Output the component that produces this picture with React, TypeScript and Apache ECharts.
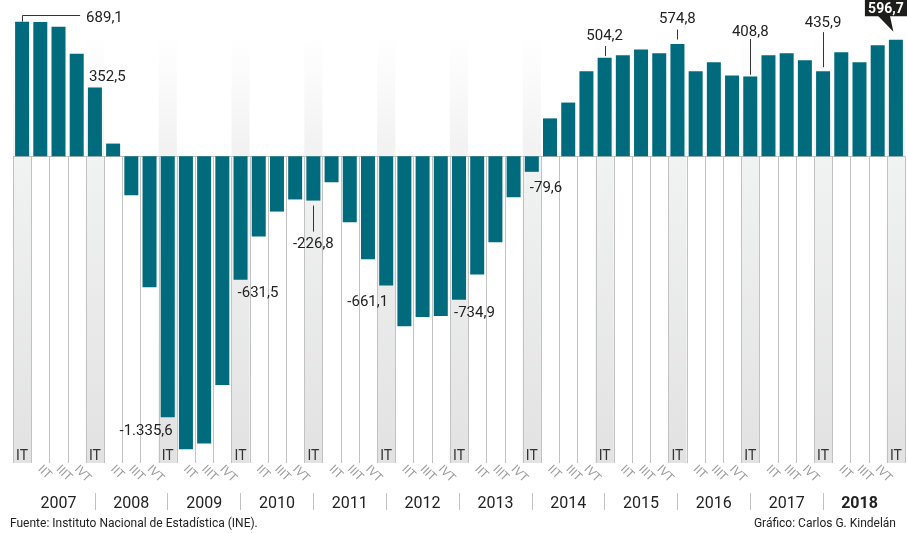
import React, { useEffect, useRef } from 'react';
import * as echarts from 'echarts';

const quarterNames = ['IT', 'IIT', 'IIIT', 'IVT'];
const years = ['2007', '2008', '2009', '2010', '2011', '2012', '2013', '2014', '2015', '2016', '2017', '2018'];
// Variación anual (miles), 49 trimestres
const values = [
  689.1, 688.0, 663, 525, 352.5, 65, -199, -670,
  -1335.6, -1500, -1470, -1171, -631.5, -411, -283, -221,
  -226.8, -133, -338, -527, -661.1, -870, -823, -818,
  -734.9, -605, -440, -210, -79.6, 194, 275, 435,
  504.2, 517, 546, 527, 574.8, 435, 481, 414,
  408.8, 517, 527, 491, 435.9, 532, 481, 568,
  596.7,
];
const quarterLabels = values.map((_, i) => quarterNames[i % 4]);
const annotated = [0, 4, 8, 12, 16, 20, 24, 28, 32, 36, 40, 44, 48];

// layout of the annotation texts (pixels relative to the bar end)
const annotationLayout: Record<number, any> = {
  0: { align: 'left', dx: 64, dy: -5, elbow: true },
  4: { align: 'left', dx: -6, dy: -11 },
  8: { align: 'right', dx: 5, dy: 13 },
  12: { align: 'left', dx: -3, dy: 12 },
  16: { align: 'center', dx: 0, dy: 42, lead: [5, 31] },
  20: { align: 'right', dx: 2, dy: 16 },
  24: { align: 'left', dx: -5, dy: 12 },
  28: { align: 'left', dx: -2, dy: 15.5 },
  32: { align: 'center', dx: 0, dy: -22.7, lead: [-1.7, -11.7] },
  36: { align: 'center', dx: 0, dy: -25.7, lead: [-4.5, -14.4] },
  40: { align: 'center', dx: 0, dy: -45.4, lead: [-1.7, -37.4] },
  44: { align: 'center', dx: 0, dy: -48.7, lead: [-4, -39] },
  48: { callout: true },
};

const Y_MIN = -1570;
const Y_MAX = 800;
const BAND_TOP = 655;
const FONT = 'Roboto, "Noto Sans", sans-serif';

function fmt(v: number): string {
  const neg = v < 0;
  const a = Math.abs(v);
  const intPart = Math.floor(a + 1e-9);
  const dec = Math.round((a - intPart) * 10);
  const s = String(intPart).replace(/\B(?=(\d{3})+(?!\d))/g, '.');
  return (neg ? '-' : '') + s + ',' + dec;
}

export default function App() {
  const ref = useRef<HTMLDivElement>(null);
  useEffect(() => {
    if (!ref.current) return;
    const chart = echarts.init(ref.current, null, { renderer: 'svg' });

    const cellsSeries = {
      type: 'custom',
      xAxisIndex: 0,
      yAxisIndex: 0,
      z: 1,
      silent: true,
      data: values.map((_, i) => [i]),
      renderItem: (params: any, api: any) => {
        const idx = api.value(0);
        const [cx, y0] = api.coord([idx, 0]);
        const [, y1] = api.coord([idx, Y_MIN]);
        const [, yb] = api.coord([idx, BAND_TOP]);
        const w = api.size([1, 0])[0];
        const left = Math.round(cx - w / 2) + 0.5;
        const right = Math.round(cx + w / 2) + 0.5;
        const children: any[] = [];
        const isIT = idx % 4 === 0;
        if (isIT) {
          children.push({
            type: 'rect',
            shape: { x: cx - w / 2, y: yb, width: w, height: y0 - yb },
            style: {
              fill: new echarts.graphic.LinearGradient(0, 0, 0, 1, [
                { offset: 0, color: 'rgba(245,245,245,0)' },
                { offset: 1, color: '#f1f1f1' },
              ]),
            },
          });
          children.push({
            type: 'rect',
            shape: { x: cx - w / 2, y: y0, width: w, height: y1 - y0 },
            style: {
              fill: new echarts.graphic.LinearGradient(0, 0, 0, 1, [
                { offset: 0, color: '#f1f2f2' },
                { offset: 1, color: '#e2e2e2' },
              ]),
            },
          });
          children.push({
            type: 'text',
            x: cx,
            y: y1 - 8,
            style: {
              text: quarterLabels[idx],
              fill: '#333',
              font: '14px ' + FONT,
              align: 'center',
              verticalAlign: 'middle',
            },
          });
        }
        children.push({
          type: 'line',
          shape: { x1: left, y1: y0, x2: left, y2: y1 },
          style: { stroke: '#c2c2c2', lineWidth: 1 },
        });
        if (idx === values.length - 1) {
          children.push({
            type: 'line',
            shape: { x1: right, y1: y0, x2: right, y2: y1 },
            style: { stroke: '#c2c2c2', lineWidth: 1 },
          });
        }
        children.push({
          type: 'line',
          shape: { x1: cx - w / 2, y1: Math.round(y0) + 0.5, x2: cx + w / 2, y2: Math.round(y0) + 0.5 },
          style: { stroke: '#bdbdbd', lineWidth: 1 },
        });
        return { type: 'group', children };
      },
    };

    const annotationSeries = {
      type: 'custom',
      xAxisIndex: 0,
      yAxisIndex: 0,
      z: 5,
      silent: true,
      data: annotated.map((i) => [i, values[i]]),
      renderItem: (params: any, api: any) => {
        const idx = api.value(0);
        const v = api.value(1);
        const [x, y] = api.coord([idx, v]);
        const L = annotationLayout[idx];
        const children: any[] = [];
        const text = fmt(values[idx]);
        if (L.callout) {
          children.push({
            type: 'rect',
            shape: { x: x - 31, y: y - 40, width: 43, height: 16.5 },
            style: { fill: '#1d1d1b' },
          });
          children.push({
            type: 'polygon',
            shape: { points: [[x - 18, y - 24], [x - 6, y - 24], [x - 2.5, y - 8]] },
            style: { fill: '#1d1d1b' },
          });
          children.push({
            type: 'text',
            x: x - 10,
            y: y - 31.5,
            style: {
              text,
              fill: '#fff',
              font: 'bold 14px ' + FONT,
              lineHeight: 14,
              align: 'center',
              verticalAlign: 'middle',
            },
          });
          return { type: 'group', children };
        }
        if (L.elbow) {
          children.push({
            type: 'polyline',
            shape: { points: [[Math.round(x) + 0.5, y], [Math.round(x) + 0.5, Math.round(y - 6.5) + 0.5], [x + 58, Math.round(y - 6.5) + 0.5]] },
            style: { stroke: '#333', lineWidth: 1, fill: null },
          });
        }
        if (L.lead) {
          const lx = Math.round(x) + 0.5;
          children.push({
            type: 'line',
            shape: { x1: lx, y1: y + L.lead[0], x2: lx, y2: y + L.lead[1] },
            style: { stroke: '#333', lineWidth: 1 },
          });
        }
        children.push({
          type: 'text',
          x: x + L.dx,
          y: y + L.dy,
          style: {
            text,
            fill: '#222',
            font: '15px ' + FONT,
            align: L.align,
            verticalAlign: 'middle',
          },
        });
        return { type: 'group', children };
      },
    };

    chart.setOption({
      animation: false,
      textStyle: { fontFamily: FONT },
      grid: { left: 13, right: 2, top: 0, bottom: 70, containLabel: false },
      xAxis: [
        {
          type: 'category',
          data: quarterLabels,
          axisLine: { show: false },
          axisTick: { show: false },
          axisLabel: {
            interval: 0,
            rotate: -45,
            margin: 4,
            color: '#9c9c9c',
            fontSize: 12,
            fontFamily: FONT,
            formatter: (v: string, i: number) => (i % 4 === 0 ? '' : v),
          },
        },
        {
          type: 'category',
          data: quarterLabels,
          position: 'bottom',
          offset: 30,
          axisLine: { show: false },
          axisTick: {
            show: true,
            alignWithLabel: true,
            length: 17,
            interval: (i: number) => i % 4 === 0 && i > 0 && i < values.length - 1,
            lineStyle: { color: '#c2c2c2', width: 1 },
          },
          axisLabel: {
            interval: 0,
            margin: 1,
            color: '#222',
            fontSize: 16,
            fontFamily: FONT,
            formatter: (v: string, i: number) => {
              if (i % 4 !== 2) return '';
              const k = Math.floor(i / 4);
              return k === years.length - 1 ? '{b|' + years[k] + '}' : years[k];
            },
            rich: { b: { fontWeight: 'bold', fontSize: 16, color: '#222', fontFamily: FONT } },
          },
        },
      ],
      yAxis: { type: 'value', min: Y_MIN, max: Y_MAX, show: false },
      series: [
        cellsSeries,
        {
          type: 'bar',
          xAxisIndex: 0,
          yAxisIndex: 0,
          data: values,
          barWidth: 14,
          z: 3,
          itemStyle: { color: '#006b7d' },
          silent: true,
        },
        annotationSeries,
      ],
      graphic: [
        {
          type: 'text',
          left: 10,
          top: 517,
          style: { text: 'Fuente: Instituto Nacional de Estadística (INE).', fill: '#222', font: '12px ' + FONT },
        },
        {
          type: 'text',
          right: 11,
          top: 517,
          style: { text: 'Gráfico: Carlos G. Kindelán', fill: '#222', font: '12px ' + FONT },
        },
      ],
    });
    return () => chart.dispose();
  }, []);
  return <div ref={ref} style={{ position: 'fixed', left: 0, top: 0, width: 907, height: 533 }} />;
}
